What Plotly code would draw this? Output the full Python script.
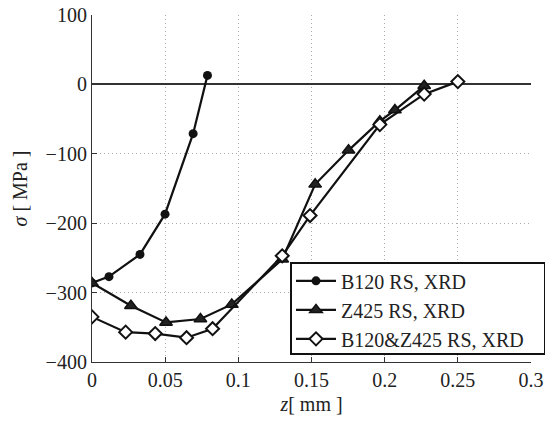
import plotly.graph_objects as go

b120_x = [0.0, 0.0116, 0.0328, 0.0499, 0.0691, 0.0789]
b120_y = [-286, -277, -245, -187, -71, 13]

z425_x = [0.0, 0.0266, 0.0506, 0.0741, 0.0955, 0.130, 0.1525, 0.1753, 0.1967, 0.207, 0.227]
z425_y = [-286, -319, -343, -338, -317, -252, -144, -95, -53, -37, -2]

both_x = [0.0, 0.023, 0.0432, 0.0646, 0.0824, 0.130, 0.149, 0.1967, 0.227, 0.250]
both_y = [-335, -357, -359, -365, -352, -247, -189, -58, -14, 4]

names = ["B120 RS, XRD", "Z425 RS, XRD", "B120&Z425 RS, XRD"]
x_ticks = [0, 0.05, 0.1, 0.15, 0.2, 0.25, 0.3]
y_ticks = [-400, -300, -200, -100, 0, 100]

FONT = "Liberation Serif"

fig = go.Figure()
fig.add_trace(go.Scatter(x=b120_x, y=b120_y, name=names[0], mode="lines+markers",
                         line=dict(color="#111", width=2.2),
                         marker=dict(symbol="circle", size=9, color="#111")))
fig.add_trace(go.Scatter(x=z425_x, y=z425_y, name=names[1], mode="lines+markers",
                         line=dict(color="#111", width=2.2),
                         marker=dict(symbol="triangle-up", size=11, color="#222",
                                     line=dict(color="#111", width=1.5))))
fig.add_trace(go.Scatter(x=both_x, y=both_y, name=names[2], mode="lines+markers",
                         line=dict(color="#111", width=2.2),
                         marker=dict(symbol="diamond", size=10, color="white",
                                     line=dict(color="#111", width=2))))

# legend frame (drawn as a shape so it can span to the page edge like the reference)
fig.add_shape(type="rect", xref="paper", yref="paper",
              x0=0.4533, x1=1.0319, y0=0.0231, y1=0.2853,
              fillcolor="white", line=dict(color="#111", width=2), layer="above")

fig.update_layout(
    width=545, height=423,
    margin=dict(l=92, r=14, t=15, b=61, autoexpand=False),
    paper_bgcolor="white", plot_bgcolor="white",
    font=dict(family=FONT, size=20, color="#222"),
    showlegend=True,
    legend=dict(x=0.4533, y=0.290, xanchor="left", yanchor="top",
                bgcolor="rgba(0,0,0,0)", borderwidth=0,
                font=dict(family=FONT, size=20, color="#222"),
                tracegroupgap=0, itemwidth=40),
)
fig.update_xaxes(range=[0, 0.3], tickvals=x_ticks, ticktext=[("%g" % v) for v in x_ticks],
                 automargin=False,
                 tickfont=dict(family=FONT, size=20),
                 showgrid=True, gridcolor="#aaa", griddash="1px,3px", gridwidth=1,
                 showline=True, linecolor="#333", linewidth=1.2,
                 ticks="inside", ticklen=5, tickcolor="#333",
                 zeroline=False,
                 title=dict(text="<i>z</i>[ mm ]", standoff=6,
                            font=dict(family=FONT, size=20)))
fig.update_yaxes(range=[-400, 100], tickvals=y_ticks,
                 ticktext=[("\u2212%d" % -v if v < 0 else "%d" % v) for v in y_ticks],
                 automargin=False,
                 tickfont=dict(family=FONT, size=20),
                 showgrid=True, gridcolor="#aaa", griddash="1px,3px", gridwidth=1,
                 showline=True, linecolor="#333", linewidth=1.2,
                 ticks="inside", ticklen=5, tickcolor="#333",
                 zeroline=True, zerolinecolor="#333", zerolinewidth=1.5,
                 title=dict(text="<i>σ</i> [ MPa ]", standoff=12,
                            font=dict(family=FONT, size=20)))

fig.write_html("out.html")
